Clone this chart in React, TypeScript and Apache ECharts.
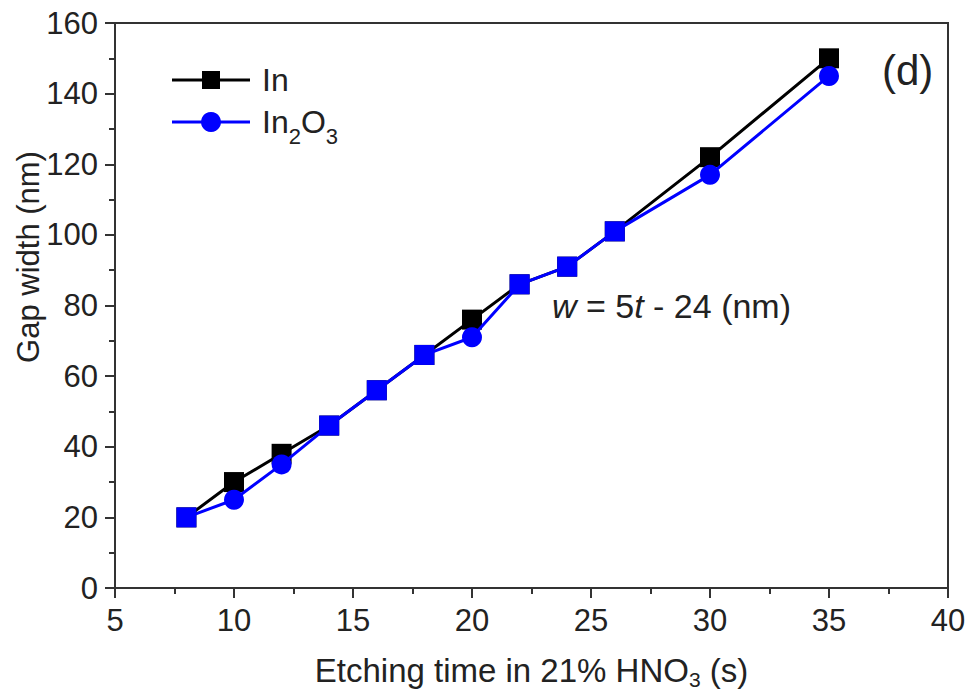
import React, { useEffect, useRef } from "react";
import * as echarts from "echarts";

const etchTimes = [8, 10, 12, 14, 16, 18, 20, 22, 24, 26, 30, 35];
const inWidths = [20, 30, 38, 46, 56, 66, 76, 86, 91, 101, 122, 150];
const in2o3Widths = [20, 25, 35, 46, 56, 66, 71, 86, 91, 101, 117, 145];

const FONT = "'Liberation Sans', Arial, sans-serif";
const TXT = "#222";
const AX = "#333";

export default function App() {
  const ref = useRef<HTMLDivElement>(null);
  useEffect(() => {
    if (!ref.current) return;
    const chart = echarts.init(ref.current, undefined, { renderer: "svg" });
    const inData = etchTimes.map((t, i) => [t, inWidths[i]]);
    const oxData = etchTimes.map((t, i) => [t, in2o3Widths[i]]);
    const option: any = {
      animation: false,
      backgroundColor: "#fff",
      grid: {
        left: 115,
        right: 21,
        top: 23,
        bottom: 106,
        show: true,
        borderColor: AX,
        borderWidth: 2,
        containLabel: false,
        outerBoundsMode: "none",
      },
      xAxis: {
        type: "value",
        min: 5,
        max: 40,
        interval: 5,
        name: "{a|Etching time in 21% HNO}{s|3}{a| (s)}",
        nameLocation: "middle",
        nameGap: 66,
        nameTextStyle: {
          rich: {
            a: { fontFamily: FONT, fontSize: 33, color: TXT, lineHeight: 33, verticalAlign: "top" },
            s: { fontFamily: FONT, fontSize: 21, color: TXT, lineHeight: 20, verticalAlign: "top", padding: [15, 0, 0, 0] },
          },
        },
        axisLine: { lineStyle: { color: AX, width: 2 } },
        axisTick: { inside: false, length: 10, lineStyle: { color: AX, width: 2 } },
        minorTick: { show: true, splitNumber: 2, length: 6, lineStyle: { color: AX, width: 2 } },
        splitLine: { show: false },
        axisLabel: { fontFamily: FONT, fontSize: 31, color: TXT, margin: 17, hideOverlap: false },
      },
      yAxis: {
        type: "value",
        min: 0,
        max: 160,
        interval: 20,
        axisLine: { show: true, lineStyle: { color: AX, width: 2 } },
        axisTick: { show: true, inside: false, length: 10, lineStyle: { color: AX, width: 2 } },
        minorTick: { show: true, splitNumber: 2, length: 6, lineStyle: { color: AX, width: 2 } },
        splitLine: { show: false },
        axisLabel: { fontFamily: FONT, fontSize: 31, color: TXT, margin: 17 },
      },
      graphic: [
        {
          type: "text",
          x: 28,
          y: 257,
          rotation: Math.PI / 2,
          style: {
            text: "Gap width (nm)",
            fontFamily: FONT,
            fontSize: 31,
            fill: TXT,
            textAlign: "center",
            textVerticalAlign: "middle",
          },
        },
        {
          type: "text",
          x: 882,
          y: 70,
          style: { text: "(d)", fontFamily: FONT, fontSize: 42, fill: TXT, textVerticalAlign: "middle" },
        },
        {
          type: "text",
          x: 552,
          y: 306,
          style: {
            text: "{i|w} = 5{i|t} - 24 (nm)",
            fontFamily: FONT,
            fontSize: 34,
            fill: TXT,
            textVerticalAlign: "middle",
            rich: {
              i: { fontFamily: FONT, fontSize: 34, fontStyle: "italic", fill: TXT },
            },
          },
        },
        // legend
        { type: "line", shape: { x1: 172, y1: 80, x2: 250, y2: 80 }, style: { stroke: "#000", lineWidth: 3 } },
        { type: "rect", shape: { x: 202, y: 71, width: 18, height: 18 }, style: { fill: "#000" } },
        {
          type: "text",
          x: 262,
          y: 80,
          style: { text: "In", fontFamily: FONT, fontSize: 32, fill: TXT, textVerticalAlign: "middle" },
        },
        { type: "line", shape: { x1: 172, y1: 122, x2: 250, y2: 122 }, style: { stroke: "#0000ff", lineWidth: 3 } },
        { type: "circle", shape: { cx: 211, cy: 122, r: 10 }, style: { fill: "#0000ff" } },
        {
          type: "text",
          x: 262,
          y: 106,
          style: {
            text: "{a|In}{s|2}{a|O}{s|3}",
            fill: TXT,
            rich: {
              a: { fontFamily: FONT, fontSize: 32, fill: TXT, lineHeight: 32, verticalAlign: "top" },
              s: { fontFamily: FONT, fontSize: 22, fill: TXT, lineHeight: 20, verticalAlign: "top", padding: [19, 0, 0, 0] },
            },
          },
        },
      ],
      series: [
        {
          name: "In",
          type: "line",
          data: inData,
          symbol: "rect",
          symbolSize: 20,
          itemStyle: { color: "#000" },
          lineStyle: { color: "#000", width: 3 },
          z: 2,
        },
        {
          name: "In2O3",
          type: "line",
          data: oxData,
          symbol: (v: number[], p: any) =>
            inWidths[p.dataIndex] === in2o3Widths[p.dataIndex] ? "rect" : "circle",
          symbolSize: 20,
          itemStyle: { color: "#0000ff" },
          lineStyle: { color: "#0000ff", width: 3 },
          z: 3,
        },
      ],
    };
    chart.setOption(option);
    return () => chart.dispose();
  }, []);
  return (
    <div
      ref={ref}
      style={{ position: "fixed", left: 0, top: 0, width: 969, height: 694 }}
    />
  );
}
